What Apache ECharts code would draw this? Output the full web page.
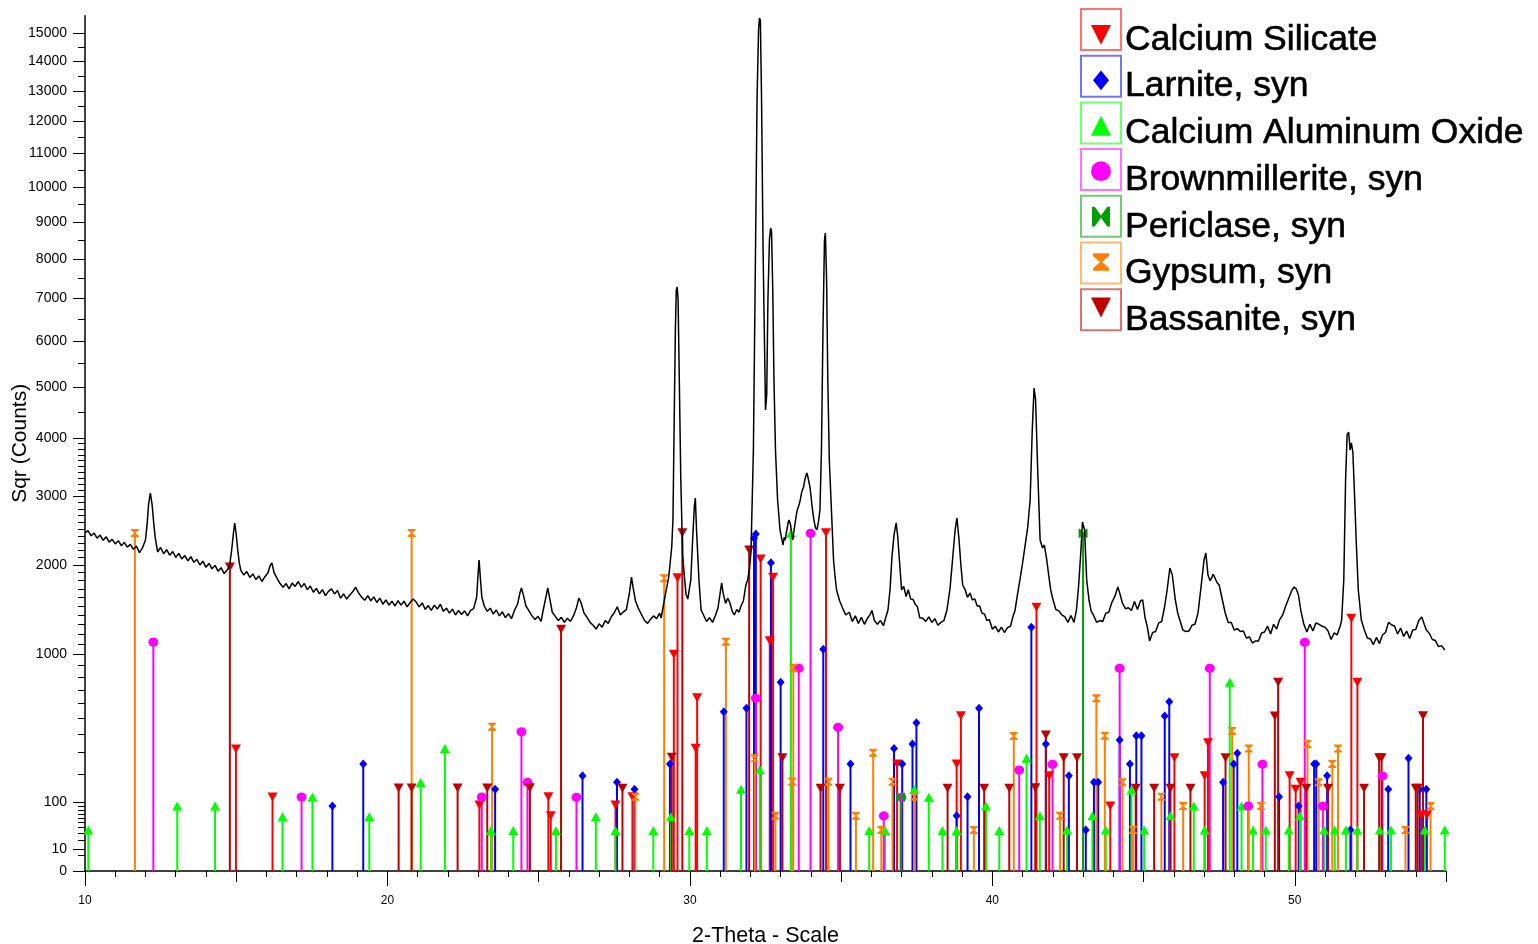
<!DOCTYPE html>
<html>
<head>
<meta charset="utf-8">
<script src="https://cdn.jsdelivr.net/npm/echarts@6/dist/echarts.min.js"></script>
<style>
  html, body { margin: 0; padding: 0; background: #fff; }
  #chart { width: 1538px; height: 944px; }
</style>
</head>
<body>
<div id="chart"></div>
<script>
// measured scan: [2-theta (deg), counts]
const scan = [
  [10.0,2440],[10.1,2475],[10.2,2400],[10.3,2440],[10.4,2365],[10.5,2410],[10.6,2335],[10.7,2385],[10.8,2310],[10.9,2350],
  [11.0,2285],[11.1,2330],[11.2,2260],[11.3,2305],[11.4,2240],[11.5,2280],[11.6,2210],[11.7,2255],[11.8,2165],[11.9,2230],
  [12.0,2340],[12.06,2600],[12.1,2862],[12.16,3052],[12.22,2862],[12.27,2600],[12.32,2380],[12.4,2174],
  [12.5,2235],[12.6,2150],[12.7,2205],[12.8,2130],[12.9,2180],[13.0,2100],[13.1,2155],[13.2,2080],[13.3,2125],[13.4,2055],
  [13.5,2110],[13.6,2035],[13.7,2075],[13.8,2000],[13.9,2050],[14.0,1970],[14.1,2020],[14.2,1950],[14.3,1995],[14.4,1920],
  [14.5,1965],[14.6,1890],[14.7,1935],[14.78,1990],[14.85,2201],[14.91,2450],[14.95,2587],[15.0,2420],[15.05,2201],[15.1,2030],
  [15.15,1935],[15.25,1870],[15.35,1915],[15.45,1840],[15.55,1885],[15.65,1815],[15.75,1860],[15.85,1790],[15.95,1850],[16.05,1900],
  [16.12,1990],[16.18,2026],[16.25,1905],[16.35,1830],[16.45,1765],[16.55,1720],[16.65,1765],[16.75,1700],[16.85,1770],[16.95,1730],
  [17.05,1790],[17.15,1720],[17.25,1765],[17.35,1690],[17.45,1735],[17.55,1660],[17.65,1705],[17.75,1640],[17.85,1690],[17.95,1620],
  [18.05,1670],[18.15,1700],[18.25,1640],[18.35,1680],[18.45,1590],[18.55,1640],[18.65,1580],[18.75,1625],[18.85,1665],[18.95,1720],
  [19.05,1650],[19.15,1600],[19.25,1565],[19.35,1620],[19.45,1560],[19.55,1605],[19.65,1540],[19.75,1590],[19.85,1520],[19.95,1570],
  [20.05,1510],[20.15,1555],[20.25,1500],[20.35,1560],[20.45,1510],[20.55,1555],[20.65,1490],[20.75,1540],[20.85,1580],[20.95,1545],
  [21.05,1490],[21.15,1535],[21.25,1460],[21.35,1505],[21.45,1450],[21.55,1510],[21.65,1465],[21.75,1520],[21.85,1440],[21.95,1475],
  [22.05,1420],[22.15,1465],[22.25,1400],[22.35,1450],[22.45,1405],[22.55,1445],[22.65,1390],[22.75,1450],[22.85,1470],[22.95,1604],
  [23.0,1900],[23.03,2066],[23.07,1850],[23.12,1604],[23.2,1500],[23.3,1440],[23.4,1475],[23.5,1410],[23.6,1455],[23.7,1390],
  [23.8,1435],[23.9,1370],[24.0,1415],[24.1,1360],[24.2,1450],[24.3,1520],[24.38,1650],[24.43,1711],[24.5,1620],[24.58,1500],
  [24.68,1445],[24.78,1390],[24.88,1350],[24.98,1385],[25.08,1330],[25.15,1455],[25.25,1620],[25.3,1711],[25.37,1580],[25.45,1430],
  [25.55,1385],[25.65,1340],[25.75,1375],[25.85,1320],[25.95,1365],[26.05,1330],[26.15,1390],[26.25,1480],[26.33,1590],[26.4,1540],
  [26.5,1420],[26.6,1375],[26.7,1320],[26.8,1290],[26.9,1250],[27.0,1305],[27.1,1270],[27.2,1340],[27.3,1310],[27.4,1380],
  [27.5,1425],[27.6,1490],[27.7,1400],[27.8,1435],[27.9,1460],[28.0,1650],[28.07,1846],[28.12,1720],[28.2,1560],[28.3,1470],
  [28.4,1405],[28.5,1340],[28.6,1310],[28.7,1355],[28.8,1390],[28.9,1360],[29.0,1420],[29.05,1367],[29.12,1500],[29.2,1651],
  [29.3,1846],[29.4,2242],[29.44,2632],[29.49,4739],[29.52,6252],[29.55,7211],[29.58,7286],[29.61,6965],[29.65,5150],[29.7,3266],
  [29.76,2133],[29.82,1850],[29.87,1640],[29.93,1580],[29.98,1569],[30.03,1809],[30.09,2340],[30.15,2862],[30.18,2972],[30.22,2484],
  [30.3,1809],[30.37,1455],[30.45,1400],[30.55,1330],[30.65,1370],[30.75,1320],[30.85,1400],[30.93,1480],[31.0,1650],[31.05,1772],
  [31.1,1650],[31.18,1530],[31.25,1590],[31.32,1540],[31.4,1440],[31.47,1400],[31.55,1460],[31.62,1430],[31.69,1500],[31.77,1560],
  [31.85,1747],[31.91,1809],[31.97,1950],[32.02,2174],[32.1,3786],[32.17,8238],[32.22,12699],[32.27,15110],[32.3,15543],[32.33,15470],
  [32.37,12699],[32.42,8238],[32.47,5800],[32.5,4540],[32.54,4840],[32.58,6965],[32.63,8506],[32.67,8832],[32.7,8722],[32.74,7211],
  [32.78,5150],[32.83,3786],[32.9,2940],[32.98,2484],[33.04,2350],[33.08,2270],[33.12,2380],[33.15,2340],[33.19,2450],[33.22,2513],
  [33.25,2600],[33.28,2632],[33.33,2557],[33.37,2420],[33.4,2340],[33.44,2470],[33.47,2557],[33.51,2680],[33.55,2784],[33.6,2850],
  [33.65,2940],[33.69,3050],[33.72,3101],[33.76,3150],[33.8,3266],[33.84,3350],[33.87,3384],[33.9,3320],[33.93,3299],[33.97,3150],
  [34.0,3020],[34.05,2800],[34.1,2632],[34.15,2520],[34.2,2484],[34.25,2600],[34.3,2784],[34.35,3786],[34.4,6252],[34.45,8506],
  [34.48,8695],[34.52,7461],[34.56,5150],[34.61,3608],[34.68,2784],[34.75,2066],[34.8,1850],[34.85,1687],[34.95,1560],[35.05,1478],
  [35.15,1400],[35.27,1430],[35.37,1330],[35.47,1390],[35.57,1310],[35.67,1375],[35.77,1300],[35.87,1365],[35.97,1410],[36.02,1450],
  [36.1,1340],[36.2,1300],[36.3,1340],[36.4,1285],[36.5,1400],[36.55,1455],[36.62,1700],[36.68,2100],[36.75,2412],[36.82,2587],
  [36.87,2400],[36.93,2050],[37.0,1687],[37.07,1730],[37.15,1610],[37.22,1690],[37.3,1580],[37.38,1575],[37.45,1520],[37.52,1495],
  [37.6,1370],[37.7,1365],[37.8,1330],[37.9,1380],[38.0,1320],[38.1,1360],[38.2,1290],[38.3,1320],[38.4,1340],[38.5,1455],
  [38.6,1700],[38.68,2050],[38.77,2484],[38.83,2662],[38.9,2340],[38.96,2000],[39.02,1747],[39.1,1690],[39.18,1600],[39.26,1650],
  [39.34,1570],[39.42,1580],[39.5,1500],[39.58,1500],[39.66,1420],[39.74,1410],[39.82,1340],[39.9,1350],[40.0,1250],[40.1,1280],
  [40.2,1220],[40.3,1270],[40.4,1215],[40.5,1265],[40.6,1280],[40.68,1380],[40.75,1450],[40.84,1651],[40.92,1830],[41.0,2026],
  [41.08,2250],[41.17,2527],[41.25,2940],[41.32,4154],[41.38,4983],[41.43,4739],[41.5,3435],[41.58,2340],[41.66,2229],[41.72,2270],
  [41.8,2066],[41.87,1850],[41.93,1687],[42.0,1580],[42.1,1460],[42.2,1445],[42.3,1400],[42.4,1380],[42.5,1320],[42.6,1395],
  [42.7,1320],[42.78,1450],[42.85,1723],[42.93,2201],[42.98,2602],[43.05,2484],[43.12,1809],[43.2,1560],[43.27,1440],[43.35,1395],
  [43.45,1320],[43.55,1340],[43.65,1330],[43.75,1420],[43.85,1430],[43.95,1540],[44.05,1610],[44.15,1723],[44.22,1640],[44.3,1534],
  [44.4,1470],[44.5,1480],[44.6,1450],[44.7,1550],[44.8,1460],[44.9,1560],[44.97,1569],[45.05,1370],[45.12,1280],[45.2,1130],
  [45.3,1215],[45.4,1225],[45.5,1315],[45.6,1330],[45.7,1500],[45.78,1687],[45.87,1961],[45.95,1872],[46.05,1569],[46.13,1420],
  [46.2,1346],[46.3,1240],[46.4,1225],[46.5,1230],[46.6,1290],[46.7,1300],[46.8,1420],[46.9,1723],[47.0,2066],[47.06,2160],
  [47.13,1872],[47.2,1800],[47.25,1834],[47.3,1880],[47.35,1846],[47.42,1780],[47.5,1747],[47.6,1580],[47.7,1422],[47.8,1320],
  [47.9,1320],[48.0,1240],[48.1,1255],[48.2,1225],[48.3,1230],[48.4,1160],[48.5,1170],[48.6,1110],[48.7,1130],[48.8,1130],
  [48.9,1210],[49.0,1220],[49.1,1280],[49.2,1200],[49.3,1300],[49.4,1250],[49.5,1350],[49.6,1400],[49.7,1500],[49.8,1590],
  [49.9,1680],[49.98,1723],[50.05,1700],[50.12,1630],[50.2,1450],[50.3,1300],[50.4,1220],[50.5,1300],[50.6,1230],[50.7,1315],
  [50.8,1300],[50.9,1280],[51.0,1270],[51.1,1230],[51.2,1145],[51.3,1210],[51.4,1190],[51.5,1280],[51.55,1346],[51.62,1809],
  [51.68,3266],[51.73,4061],[51.78,4117],[51.83,3786],[51.87,3913],[51.92,3750],[51.97,3101],[52.03,2340],[52.1,1687],[52.2,1346],
  [52.3,1240],[52.4,1160],[52.5,1150],[52.6,1095],[52.7,1165],[52.8,1105],[52.9,1190],[53.0,1215],[53.1,1320],[53.2,1295],
  [53.3,1280],[53.4,1200],[53.5,1260],[53.6,1175],[53.7,1230],[53.8,1155],[53.9,1240],[54.0,1245],[54.1,1340],[54.2,1378],
  [54.28,1300],[54.35,1241],[54.45,1205],[54.55,1145],[54.65,1135],[54.75,1075],[54.85,1085],[54.96,1043]
];

// reference patterns: [2-theta, counts]
const calciumSilicate = [
  [14.99, 318], [16.2, 117], [23.04, 93], [25.32, 118], [25.40, 65], [27.54, 93], [28.1, 118], [29.47, 1003], [29.59, 1838],
  [30.19, 322], [30.24, 642], [32.34, 2079], [32.64, 1133], [32.75, 1843], [34.5, 2445], [36.85, 245], [38.82, 245], [38.96, 515],
  [41.46, 1485], [41.88, 194], [43.9, 90], [46.02, 274], [47.02, 194], [47.13, 352], [49.83, 194], [50.03, 143], [50.19, 168],
  [51.87, 1364], [52.07, 760], [54.19, 67], [54.37, 67]
];
const larnite = [
  [18.18, 90], [19.2, 245], [23.56, 143], [26.45, 194], [27.59, 168], [28.17, 143], [29.34, 245], [31.12, 542], [31.87, 565],
  [32.12, 2364], [32.18, 2426], [32.68, 2030], [33.0, 760], [34.41, 1050], [35.31, 245], [36.75, 320], [37.02, 245], [37.36, 345],
  [37.49, 470], [38.82, 65], [39.18, 118], [39.56, 565], [41.29, 1269], [41.77, 345], [42.53, 194], [43.09, 36], [43.36, 168],
  [43.5, 168], [44.21, 367], [44.55, 245], [44.76, 391], [44.93, 391], [45.7, 513], [45.85, 612], [47.63, 168], [47.98, 245],
  [48.1, 296], [49.48, 118], [50.13, 90], [50.64, 245], [50.71, 245], [51.07, 194], [51.84, 36], [53.09, 143], [53.76, 271],
  [54.13, 143], [54.35, 143]
];
const calciumAluminumOxide = [
  [10.11, 36], [13.05, 90], [14.3, 90], [16.53, 63], [17.52, 117], [19.4, 63], [21.1, 167], [21.9, 320], [23.42, 35], [24.16, 35],
  [25.57, 35], [26.89, 63], [27.54, 35], [28.79, 35], [29.37, 63], [29.98, 35], [30.56, 35], [31.69, 143], [32.31, 220], [33.34, 2436],
  [35.93, 35], [36.45, 35], [37.42, 143], [37.9, 116], [38.35, 35], [38.82, 35], [39.79, 90], [40.23, 35], [41.13, 271], [41.57, 65],
  [42.47, 36], [43.31, 65], [43.75, 36], [44.6, 140], [45.02, 36], [45.89, 65], [46.66, 90], [47.02, 36], [47.85, 760], [48.24, 90],
  [48.62, 36], [49.04, 36], [49.8, 36], [50.17, 65], [50.97, 36], [51.32, 36], [51.69, 36], [52.07, 36], [52.81, 36], [53.18, 36],
  [54.3, 36], [54.96, 36]
];
const brownmillerite = [
  [12.26, 1120], [17.16, 117], [23.12, 117], [24.43, 414], [24.63, 168], [26.25, 116], [32.18, 637], [33.6, 878], [33.99, 2436],
  [34.9, 441], [36.41, 65], [36.99, 116], [40.89, 218], [41.99, 243], [44.21, 878], [47.19, 878], [48.46, 90], [48.93, 243],
  [50.33, 1117], [50.93, 90], [52.9, 193]
];
const periclase = [[36.97, 116], [43.0, 2436]];
const gypsum = [
  [11.65, 2440], [20.8, 2440], [23.46, 445], [28.2, 118], [29.15, 1830], [31.19, 1123], [32.14, 271], [32.83, 65], [33.38, 170],
  [33.42, 883], [34.58, 170], [35.49, 65], [36.06, 299], [36.33, 36], [36.7, 170], [37.42, 118], [39.39, 36], [40.71, 389],
  [42.24, 65], [43.44, 637], [43.72, 391], [44.3, 168], [44.65, 36], [45.59, 118], [46.31, 90], [47.93, 419], [48.48, 320],
  [48.88, 90], [50.42, 345], [50.79, 168], [51.24, 245], [51.43, 320], [53.66, 36], [54.49, 90]
];
const bassanite = [
  [14.79, 1974], [20.37, 147], [20.8, 147], [22.32, 147], [23.3, 147], [24.71, 148], [25.74, 1248], [27.77, 146], [29.4, 276],
  [29.75, 2445], [31.96, 2201], [33.06, 274], [34.32, 146], [34.96, 146], [38.52, 146], [39.73, 146], [40.56, 146], [41.42, 148],
  [41.77, 395], [42.36, 274], [42.8, 274], [44.74, 146], [45.35, 146], [45.89, 146], [46.55, 146], [47.71, 274], [49.34, 513],
  [49.45, 760], [50.38, 146], [51.1, 146], [52.29, 146], [52.79, 274], [52.87, 274], [54.0, 146], [54.06, 146], [54.24, 515]
];

const yMajorTicks = [0, 10, 100, 1000, 2000, 3000, 4000, 5000, 6000, 7000, 8000, 9000, 10000, 11000, 12000, 13000, 14000, 15000];
const yMinorTicks = [
  5, 20, 30, 40, 50, 60, 70, 80, 90, 200, 300, 400, 500, 600, 700, 800, 900,
  1100, 1200, 1300, 1400, 1500, 1600, 1700, 1800, 1900, 2100, 2200, 2300, 2400, 2500, 2600, 2700, 2800, 2900,
  3100, 3200, 3300, 3400, 3500, 3600, 3700, 3800, 3900, 4500, 5500, 6500, 7500, 8500, 9500,
  10500, 11500, 12500, 13500, 14500
];
const xLabelTicks = [10, 20, 30, 40, 50];

const HOURGLASS = 'path://M0,0L10,0L10,1.5L5.6,5L10,8.5L10,10L0,10L0,8.5L4.4,5L0,1.5Z';
const BOWTIE = 'path://M0,0L1.5,0L5,4.4L8.5,0L10,0L10,10L8.5,10L5,5.6L1.5,10L0,10Z';

const phases = [
  { name: 'Calcium Silicate', data: calciumSilicate, color: '#ff0000', symbol: 'triangle', rotate: 180, size: [10, 9] },
  { name: 'Larnite, syn', data: larnite, color: '#0000ff', symbol: 'diamond', rotate: 0, size: [8, 9] },
  { name: 'Calcium Aluminum Oxide', data: calciumAluminumOxide, color: '#00ff00', symbol: 'triangle', rotate: 0, size: [10, 9] },
  { name: 'Brownmillerite, syn', data: brownmillerite, color: '#ff00ff', symbol: 'circle', rotate: 0, size: [10, 9] },
  { name: 'Periclase, syn', data: periclase, color: '#00a000', symbol: BOWTIE, rotate: 0, size: [9, 9] },
  { name: 'Gypsum, syn', data: gypsum, color: '#ff8000', symbol: HOURGLASS, rotate: 0, size: [8, 8] },
  { name: 'Bassanite, syn', data: bassanite, color: '#c00000', symbol: 'triangle', rotate: 180, size: [10, 9] }
];

// y axis is square-root scaled
const sq = v => Math.sqrt(v);

const series = [];
phases.forEach(p => {
  const pts = p.data.map(d => [d[0], sq(d[1])]);
  // sticks
  series.push({
    type: 'custom',
    name: p.name,
    z: 2,
    silent: true,
    renderItem: (params, api) => {
      const a = api.coord([api.value(0), 0]);
      const b = api.coord([api.value(0), api.value(1)]);
      return {
        type: 'line',
        shape: { x1: a[0], y1: a[1], x2: b[0], y2: b[1] },
        style: { stroke: p.color, lineWidth: 2 }
      };
    },
    data: pts
  });
  // markers on top of sticks
  series.push({
    type: 'scatter',
    name: p.name,
    z: 3,
    silent: true,
    symbol: p.symbol,
    symbolSize: p.size,
    symbolRotate: p.rotate,
    itemStyle: { color: p.color, opacity: 1 },
    data: pts
  });
});

series.push({
  type: 'line',
  name: 'scan',
  z: 5,
  silent: true,
  showSymbol: false,
  lineStyle: { color: '#000', width: 1.5 },
  data: scan.map(d => [d[0], sq(d[1])])
});

// legend: boxes + names as graphics, icons via scatter on a helper grid
const legendGraphics = [];
phases.forEach((p, i) => {
  const top = 9 + i * 46.7;
  legendGraphics.push({
    type: 'rect',
    shape: { x: 1081, y: top, width: 40, height: 41 },
    style: { fill: '#fff', stroke: p.color, lineWidth: 2, opacity: 0.55 }
  });
  legendGraphics.push({
    type: 'text',
    style: {
      x: 1125, y: top + 31, text: p.name, fill: '#000',
      font: '35.5px "Liberation Sans", Arial, sans-serif',
      verticalAlign: 'middle', stroke: '#000', lineWidth: 0.6
    }
  });
});

const legendIconSeries = phases.map((p, i) => ({
  type: 'scatter',
  xAxisIndex: 2,
  yAxisIndex: 2,
  silent: true,
  symbol: p.symbol,
  symbolSize: [p.size[0] * 2, p.size[1] * 2.2],
  symbolRotate: p.rotate,
  itemStyle: { color: p.color, opacity: 1 },
  z: 20,
  data: [[0, i]]
}));

const chart = echarts.init(document.getElementById('chart'), null, { renderer: 'canvas' });

chart.setOption({
  animation: false,
  backgroundColor: '#fff',
  grid: [
    { left: 85, right: 92, top: 15.7, bottom: 73, containLabel: false, outerBoundsMode: 'none' },
    { left: 1081, width: 40, top: 9, height: 6 * 46.7 + 41, containLabel: false, outerBoundsMode: 'none' }
  ],
  xAxis: [
    {
      type: 'value', min: 10, max: 55, interval: 5,
      axisLine: { lineStyle: { color: '#000', width: 1.5 } },
      axisTick: { length: 11, lineStyle: { color: '#000', width: 1 } },
      minorTick: { show: true, splitNumber: 5, length: 6, lineStyle: { color: '#000', width: 1 } },
      axisLabel: { show: false },
      splitLine: { show: false }
    },
    {
      type: 'value', min: 10, max: 55, position: 'bottom',
      axisLine: { show: false },
      axisTick: { customValues: xLabelTicks, length: 15, lineStyle: { color: '#000', width: 1 } },
      axisLabel: { customValues: xLabelTicks, margin: 24, fontSize: 12, color: '#000', fontFamily: 'Liberation Sans' },
      splitLine: { show: false },
      name: '2-Theta - Scale', nameLocation: 'middle', nameGap: 54, nameMoveOverlap: false,
      nameTextStyle: { fontSize: 21.5, color: '#000', fontFamily: 'Liberation Sans' }
    },
    { gridIndex: 1, type: 'value', min: -1, max: 1, show: false }
  ],
  yAxis: [
    {
      type: 'value', min: 0, max: 125,
      axisLine: { show: true, lineStyle: { color: '#000', width: 1.5 } },
      axisTick: { customValues: yMajorTicks.map(sq), length: 12, lineStyle: { color: '#000', width: 1 } },
      axisLabel: {
        customValues: yMajorTicks.map(sq), margin: 18, fontSize: 14, color: '#000', fontFamily: 'Liberation Sans',
        formatter: v => String(Math.round(v * v))
      },
      splitLine: { show: false },
      name: 'Sqr (Counts)', nameLocation: 'middle', nameGap: 54, nameRotate: 90, nameMoveOverlap: false,
      nameTextStyle: { fontSize: 21, color: '#000', fontFamily: 'Liberation Sans' }
    },
    {
      type: 'value', min: 0, max: 125, position: 'left',
      axisLine: { show: false },
      axisTick: { customValues: yMinorTicks.map(sq), length: 7, lineStyle: { color: '#000', width: 1 } },
      axisLabel: { show: false },
      splitLine: { show: false }
    },
    { gridIndex: 1, type: 'value', min: -0.5 * 46.7 / 41, max: 6.5, inverse: true, show: false }
  ],
  graphic: legendGraphics,
  series: series.concat(legendIconSeries)
});
</script>
</body>
</html>
